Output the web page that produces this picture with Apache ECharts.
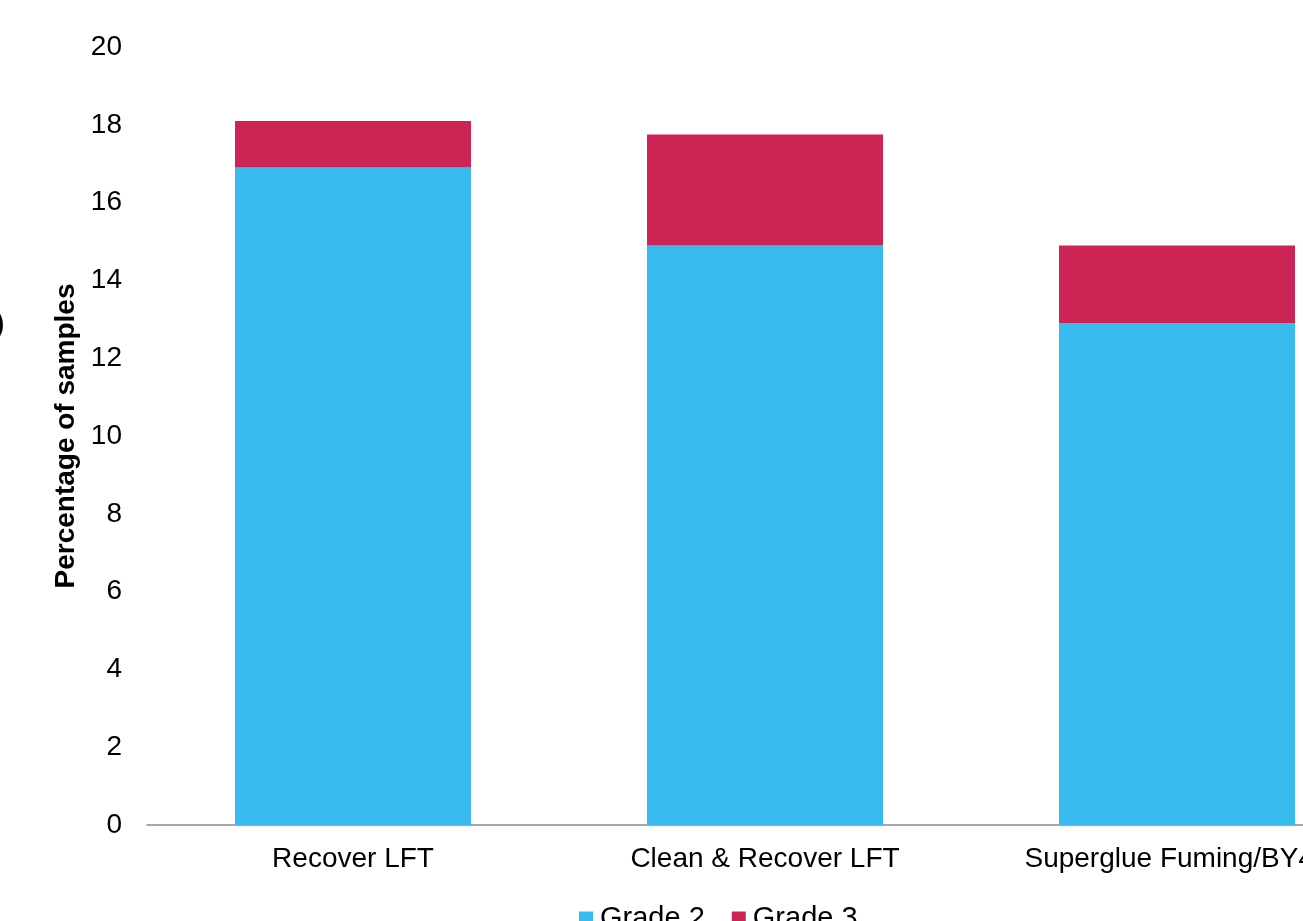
<!DOCTYPE html>
<html>
<head>
<meta charset="utf-8">
<script src="https://cdn.jsdelivr.net/npm/echarts@6/dist/echarts.min.js"></script>
<style>
  html, body { margin: 0; padding: 0; background: #fff; }
  #chart { width: 1303px; height: 921px; }
</style>
</head>
<body>
<div id="chart"></div>
<script>
// data
var categories = ["Recover LFT", "Clean & Recover LFT", "Superglue Fuming/BY40"];
var grade2 = [16.9, 14.9, 12.9];
var grade3 = [1.2, 2.85, 2.0];
var yTicks = { min: 0, max: 20, interval: 2 };

var font = "Liberation Sans, Arial, Helvetica, sans-serif";
var chart = echarts.init(document.getElementById("chart"));

var option = {
  animation: false,
  textStyle: { fontFamily: font },
  grid: {
    left: 147,
    top: 47,
    bottom: 96,
    right: -80,
    containLabel: false,
    outerBoundsMode: "none"
  },
  legend: {
    top: 899,
    left: 574,
    itemWidth: 14,
    itemHeight: 14,
    itemGap: 27,
    icon: "rect",
    textStyle: { fontSize: 29, color: "#000", fontFamily: font, padding: [0, 0, 0, 2] },
    data: ["Grade 2", "Grade 3"]
  },
  // partly cropped glyph at the left edge of the reference
  graphic: [
    {
      type: "text",
      x: -5,
      y: 310,
      style: { text: ")", fontSize: 28, fontFamily: font, fill: "#000", fontWeight: "bold" }
    }
  ],
  xAxis: {
    type: "category",
    data: categories,
    axisLine: { show: true, lineStyle: { color: "#8c8c8c", width: 1.5 } },
    axisTick: { show: false },
    axisLabel: { color: "#000", fontSize: 28, margin: 20, interval: 0 },
    splitLine: { show: false }
  },
  yAxis: {
    type: "value",
    min: yTicks.min,
    max: yTicks.max,
    interval: yTicks.interval,
    name: "Percentage of samples",
    nameLocation: "middle",
    nameGap: 66,
    nameRotate: 90,
    nameTextStyle: { color: "#000", fontSize: 28, fontWeight: "bold" },
    axisLine: { show: false },
    axisTick: { show: false },
    splitLine: { show: false },
    axisLabel: { color: "#000", fontSize: 28, margin: 25 }
  },
  series: [
    {
      name: "Grade 2",
      type: "bar",
      stack: "grade",
      barWidth: 236,
      itemStyle: { color: "#37bbee" },
      data: grade2
    },
    {
      name: "Grade 3",
      type: "bar",
      stack: "grade",
      barWidth: 236,
      itemStyle: { color: "#cc2555" },
      data: grade3
    }
  ]
};

chart.setOption(option);
</script>
</body>
</html>
